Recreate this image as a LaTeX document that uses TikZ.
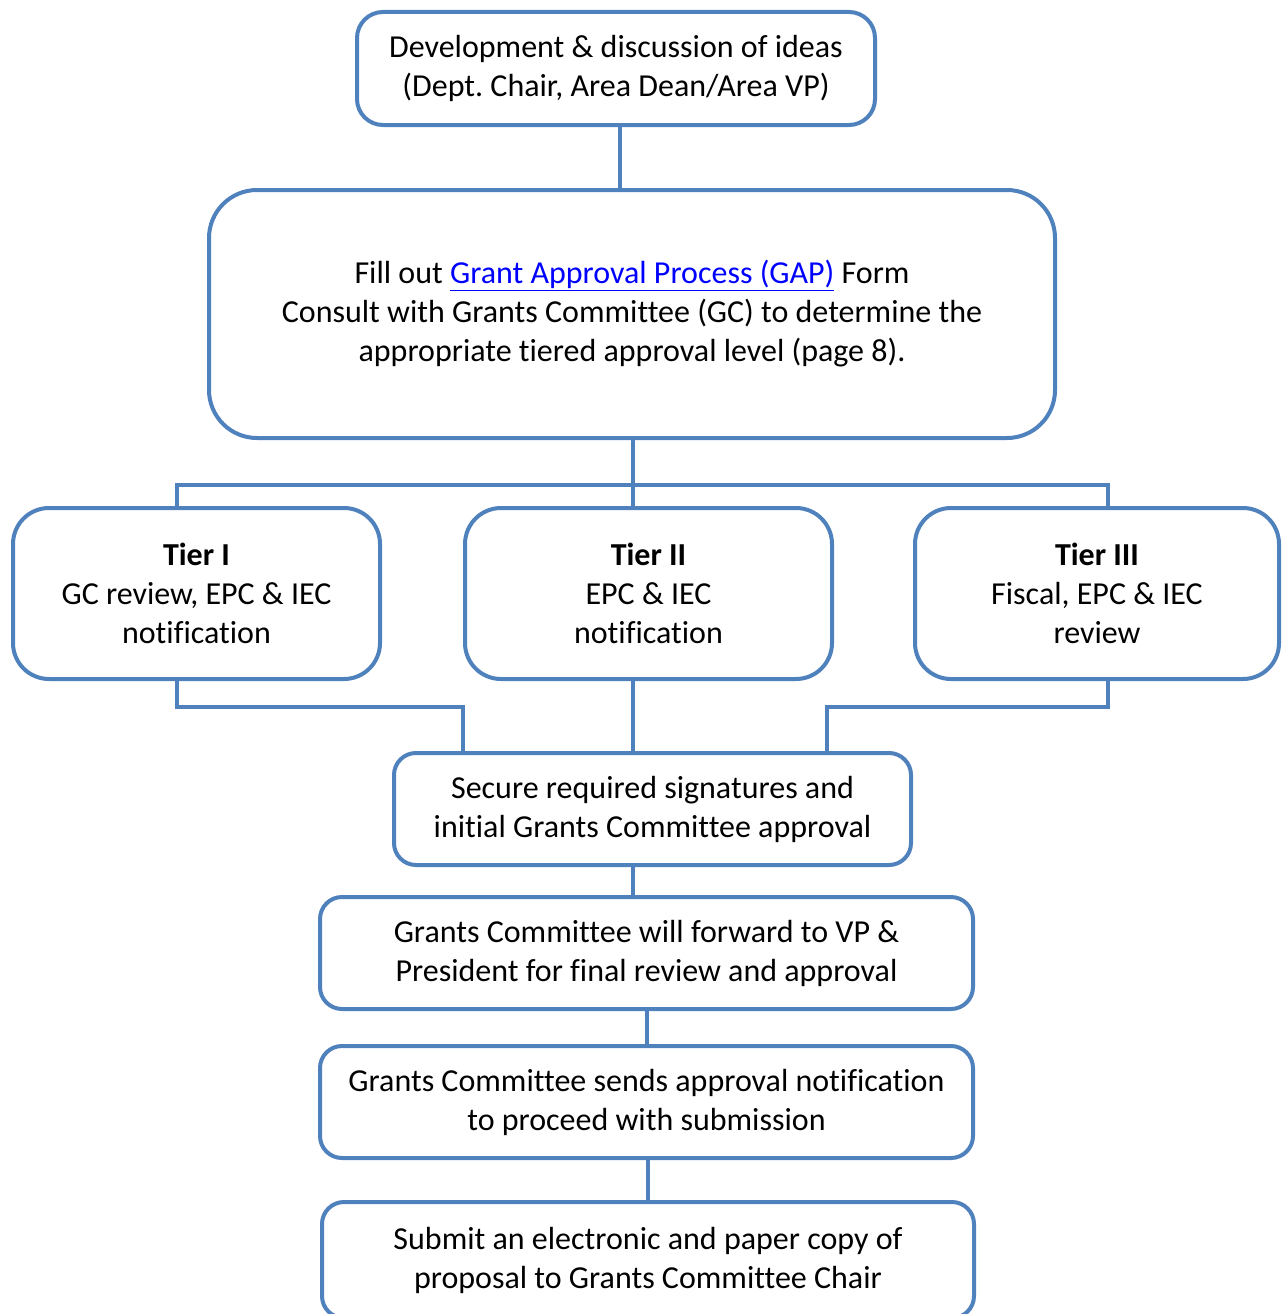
\documentclass[tikz,border=0pt]{standalone}
\usepackage{fontspec}
\setmainfont[Ligatures={NoCommon}]{Carlito}
\definecolor{boxblue}{HTML}{4F81BD}
\definecolor{linkblue}{HTML}{0000FF}
\frenchspacing
\begin{document}
\begin{tikzpicture}[x=1pt,y=-1pt,
  every node/.style={font=\fontsize{32}{39}\selectfont},
  box/.style={draw=boxblue, line width=4pt, fill=white, align=center, inner sep=0pt},
  conn/.style={draw=boxblue, line width=4.5pt}]
\useasboundingbox (0,0) rectangle (1283,1314);
% nodes
\node[box, rounded corners=26pt, minimum width=518pt, minimum height=113pt] (top) at (616,68.5)
  {Development \& discussion of ideas\\(Dept. Chair, Area Dean/Area VP)};
\node[box, rounded corners=48pt, minimum width=846pt, minimum height=248pt] (gap) at (632,314)
  {Fill out {\color{linkblue}\underline{Grant Approval Process (GAP)}} Form\\
   Consult with Grants Committee (GC) to determine the\\
   appropriate tiered approval level (page 8).};
\node[box, rounded corners=36pt, minimum width=367pt, minimum height=171pt] (t1) at (196.5,593.5)
  {\textbf{Tier I}\\GC review, EPC \& IEC\\notification};
\node[box, rounded corners=36pt, minimum width=367pt, minimum height=171pt] (t2) at (648.5,593.5)
  {\textbf{Tier II}\\EPC \& IEC\\notification};
\node[box, rounded corners=36pt, minimum width=364pt, minimum height=171pt] (t3) at (1097,593.5)
  {\textbf{Tier III}\\Fiscal, EPC \& IEC\\review};
\node[box, rounded corners=22pt, minimum width=517pt, minimum height=112pt] (sec) at (652.5,809)
  {Secure required signatures and\\initial Grants Committee approval};
\node[box, rounded corners=22pt, minimum width=653pt, minimum height=112pt] (fwd) at (646.5,953)
  {Grants Committee will forward to VP \&\\President for final review and approval};
\node[box, rounded corners=22pt, minimum width=653pt, minimum height=112pt] (snd) at (646.5,1102)
  {Grants Committee sends approval notification\\to proceed with submission};
\node[box, rounded corners=22pt, minimum width=652pt, minimum height=116pt] (sub) at (648,1260)
  {Submit an electronic and paper copy of\\proposal to Grants Committee Chair};
% junction coordinates
\coordinate (xa) at (620,0);
\coordinate (xb) at (633,485);
\coordinate (xl) at (177,485);
\coordinate (xr) at (1108,485);
\coordinate (yl) at (177,707);
\coordinate (yl2) at (463,707);
\coordinate (yr) at (1108,707);
\coordinate (yr2) at (827,707);
\coordinate (xs) at (633,0);
\coordinate (xf) at (647,0);
\coordinate (xn) at (648,0);
% connectors
\draw[conn] (top.south -| xa) -- (gap.north -| xa);
\draw[conn] (gap.south -| xb) -- (xb);
\draw[conn] (t1.north -| xl) -- (xl) -- (xr) -- (t3.north -| xr);
\draw[conn] (xb) -- (t2.north -| xb);
\draw[conn] (t1.south -| yl) -- (yl) -- (yl2) -- (sec.north -| yl2);
\draw[conn] (t2.south -| xb) -- (sec.north -| xb);
\draw[conn] (t3.south -| yr) -- (yr) -- (yr2) -- (sec.north -| yr2);
\draw[conn] (sec.south -| xs) -- (fwd.north -| xs);
\draw[conn] (fwd.south -| xf) -- (snd.north -| xf);
\draw[conn] (snd.south -| xn) -- (sub.north -| xn);
\end{tikzpicture}
\end{document}
